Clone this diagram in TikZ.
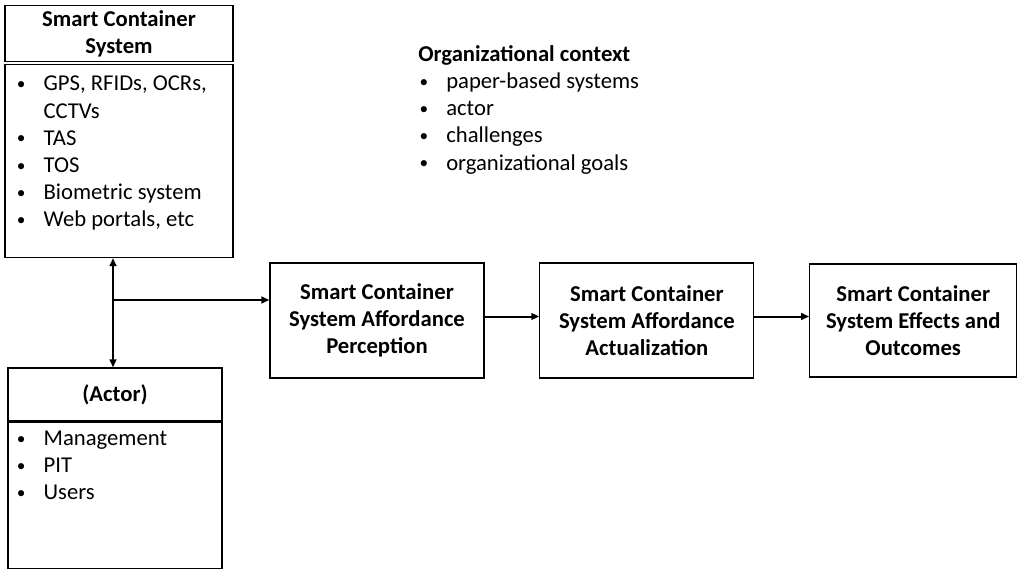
\documentclass[tikz,border=0pt]{standalone}
\usepackage{fontspec}
\setmainfont{Carlito}
\usetikzlibrary{positioning, arrows.meta, calc}

% bullet line used in the three lists
\newcommand{\itm}[1]{\makebox[21pt][l]{\hspace{1pt}\raisebox{1pt}{\fontsize{13}{13}\selectfont\textbullet}}#1}

\begin{document}
\begin{tikzpicture}[
    x=0.75pt, y=-0.75pt,
    node distance=41pt,
    font=\fontsize{17}{20.4}\selectfont,
    module/.style={rectangle, draw, line width=0.9pt, minimum width=160.5pt, minimum height=86.25pt, align=center, font=\fontsize{17}{20.4}\selectfont\bfseries},
    head/.style={rectangle, draw, line width=0.9pt, minimum height=39.75pt, align=center, font=\fontsize{17}{20.4}\selectfont\bfseries},
    listbox/.style={rectangle, draw, line width=0.9pt},
    items/.style={inner sep=0pt, align=left, anchor=north west},
    arrow/.style={line width=1.5pt, >={Triangle[length=6pt,width=5pt]}}
]
\useasboundingbox (0,0) rectangle (1019,570);

% System and actor boxes
\node[head, minimum width=171pt] (sysTitle) at (119,33.5) {Smart Container\\System};
\node[listbox, minimum width=171pt, minimum height=144.75pt, below=1.5pt of sysTitle] (sysList) {};
\node[head, minimum width=160.5pt] (actorTitle) at (115,394.5) {(Actor)};
\node[listbox, minimum width=160.5pt, minimum height=109.5pt, below=0pt of actorTitle] (actorList) {};

% List contents
\node[items] (sysItems) at ([xshift=8.25pt,yshift=-9pt]sysList.north west)
    {\itm{GPS, RFIDs, OCRs,}\\\makebox[21pt]{}CCTVs\\\itm{TAS}\\\itm{TOS}\\\itm{Biometric system}\\\itm{Web portals, etc}};
\node[items] (actorItems) at ([xshift=6pt,yshift=-6.75pt]actorList.north west)
    {\itm{Management}\\\itm{PIT}\\\itm{Users}};
\node[items] (orgContext) at (418,45)
    {\textbf{Organizational context}\\\itm{paper-based systems}\\\itm{actor}\\\itm{challenges}\\\itm{organizational goals}};

% Affordance chain
\node[module] (perceive) at (377,320.5) {Smart Container\\System Affordance\\Perception};
\node[module, right=of perceive] (actualize) {Smart Container\\System Affordance\\Actualization};
\node[module, right=of actualize, minimum width=155.25pt, minimum height=84.75pt] (outcome) {Smart Container\\System Effects and\\Outcomes};

% Arrows
\coordinate (split) at (113,300);
\draw[arrow, <->] (sysList.south -| split) -- (actorTitle.north -| split);
\draw[arrow, ->] (split) -- (split -| perceive.west);
\draw[arrow, ->] ([yshift=3pt]perceive.east) -- ([yshift=3pt]actualize.west);
\draw[arrow, ->] ([yshift=3pt]actualize.east) -- ([yshift=3pt]outcome.west);

\end{tikzpicture}
\end{document}
